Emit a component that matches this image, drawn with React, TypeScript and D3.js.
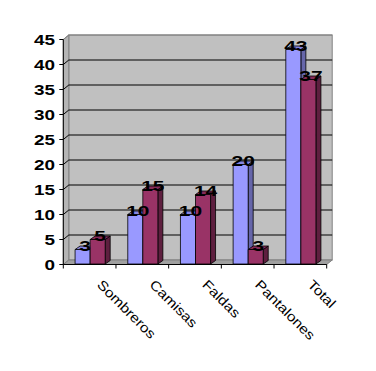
import React from "react";
import * as d3 from "d3";

const categories = ["Sombreros", "Camisas", "Faldas", "Pantalones", "Total"];
const seriesA = [3, 10, 10, 20, 43];
const seriesB = [5, 15, 14, 3, 37];
const yTicks = [0, 5, 10, 15, 20, 25, 30, 35, 40, 45];

const W = 376;
const H = 371;
const X0 = 63.3;
const X1 = 326.7;
const Y0 = 264.5;
const Y1 = 39.5;
const WDX = 5.5; // wall depth offset
const WDY = -4.5;
const BDX = 5; // bar depth offset
const BDY = -3.5;

const colors = [
  { front: "#9999FF", top: "#8585E0", side: "#6666AA" },
  { front: "#993366", top: "#862B58", side: "#5E1F3F" },
];

export default function App() {
  const x = d3.scaleBand<string>().domain(categories).range([X0, X1]).padding(0);
  const y = d3.scaleLinear().domain([0, 45]).range([Y0, Y1]);
  const inner = d3
    .scaleBand<number>()
    .domain([0, 1])
    .range([0, x.bandwidth()])
    .paddingOuter(0.75)
    .paddingInner(0);
  const series = [seriesA, seriesB];

  const pts = (arr: number[][]) => arr.map((p) => p.join(",")).join(" ");

  const bars: React.ReactNode[] = [];
  const labels: React.ReactNode[] = [];
  categories.forEach((c, ci) => {
    series.forEach((s, si) => {
      const v = s[ci];
      const bw = inner.bandwidth();
      const xl = (x(c) as number) + (inner(si) as number) + 0.5;
      const xr = xl + bw;
      const yt = y(v);
      const yb = Y0 - 0.5;
      const col = colors[si];
      bars.push(
        <g key={`b-${ci}-${si}`} stroke="#000" strokeWidth={0.8} strokeLinejoin="round">
          <polygon
            points={pts([[xr, yb], [xr + BDX, yb + BDY], [xr + BDX, yt + BDY], [xr, yt]])}
            fill={col.side}
          />
          <polygon
            points={pts([[xl, yt], [xr, yt], [xr + BDX, yt + BDY], [xl + BDX, yt + BDY]])}
            fill={col.top}
          />
          <rect x={xl} y={yt} width={bw} height={yb - yt} fill={col.front} />
        </g>
      );
      const cx = (xl + xr) / 2 + BDX / 2;
      labels.push(
        <text
          key={`l-${ci}-${si}`}
          transform={`translate(${cx},${yt + 1}) scale(1.35,1)`}
          textAnchor="middle"
          fontFamily="'Liberation Sans', Arial, sans-serif"
          fontWeight="bold"
          fontSize={15.5}
          fill="#000"
        >
          {v}
        </text>
      );
    });
  });

  const boundaries = d3.range(categories.length + 1).map((i) => X0 + i * x.bandwidth());

  return (
    <svg
      width={W}
      height={H}
      style={{ position: "absolute", left: 0, top: 0, background: "#fff" }}
    >
      <rect x={0} y={0} width={W} height={H} fill="#fff" />
      {/* back wall */}
      <rect
        x={X0 + WDX}
        y={Y1 + WDY}
        width={X1 - X0}
        height={Y0 - Y1}
        fill="#C0C0C0"
        stroke="#808080"
        strokeWidth={1}
      />
      {/* left wall */}
      <polygon
        points={pts([[X0, Y1], [X0 + WDX, Y1 + WDY], [X0 + WDX, Y0 + WDY], [X0, Y0]])}
        fill="#B4B4B4"
        stroke="#808080"
        strokeWidth={1}
      />
      {/* floor */}
      <polygon
        points={pts([[X0, Y0], [X1, Y0], [X1 + WDX, Y0 + WDY], [X0 + WDX, Y0 + WDY]])}
        fill="#A0A0A0"
        stroke="#808080"
        strokeWidth={1}
      />
      {/* gridlines */}
      {yTicks
        .filter((t) => t > 0)
        .map((t) => (
          <polyline
            key={`g-${t}`}
            points={pts([[X0, y(t)], [X0 + WDX, y(t) + WDY], [X1 + WDX, y(t) + WDY]])}
            fill="none"
            stroke={t === 45 ? "#808080" : "#000"}
            strokeWidth={1}
          />
        ))}
      {bars}
      {/* axes */}
      <line x1={X0} y1={Y1} x2={X0} y2={Y0} stroke="#000" strokeWidth={1} />
      <line x1={X0} y1={Y0} x2={X1} y2={Y0} stroke="#000" strokeWidth={1} />
      {yTicks.map((t) => (
        <g key={`yt-${t}`}>
          <line x1={X0 - 4} y1={y(t)} x2={X0} y2={y(t)} stroke="#000" strokeWidth={1} />
          <text
            transform={`translate(55,${y(t) + 5}) scale(1.35,1)`}
            textAnchor="end"
            fontFamily="'Liberation Sans', Arial, sans-serif"
            fontWeight="bold"
            fontSize={14}
            fill="#000"
          >
            {t}
          </text>
        </g>
      ))}
      {boundaries.map((bx, i) => (
        <line key={`xt-${i}`} x1={bx} y1={Y0} x2={bx} y2={Y0 + 4} stroke="#000" strokeWidth={1} />
      ))}
      {categories.map((c) => (
        <text
          key={`c-${c}`}
          transform={`translate(${(x(c) as number) + x.bandwidth() / 2 + 6.5},285.5) rotate(45) scale(1.16,1)`}
          textAnchor="start"
          fontFamily="'Liberation Sans', Arial, sans-serif"
          fontSize={13.5}
          fill="#000"
        >
          {c}
        </text>
      ))}
      {labels}
    </svg>
  );
}
